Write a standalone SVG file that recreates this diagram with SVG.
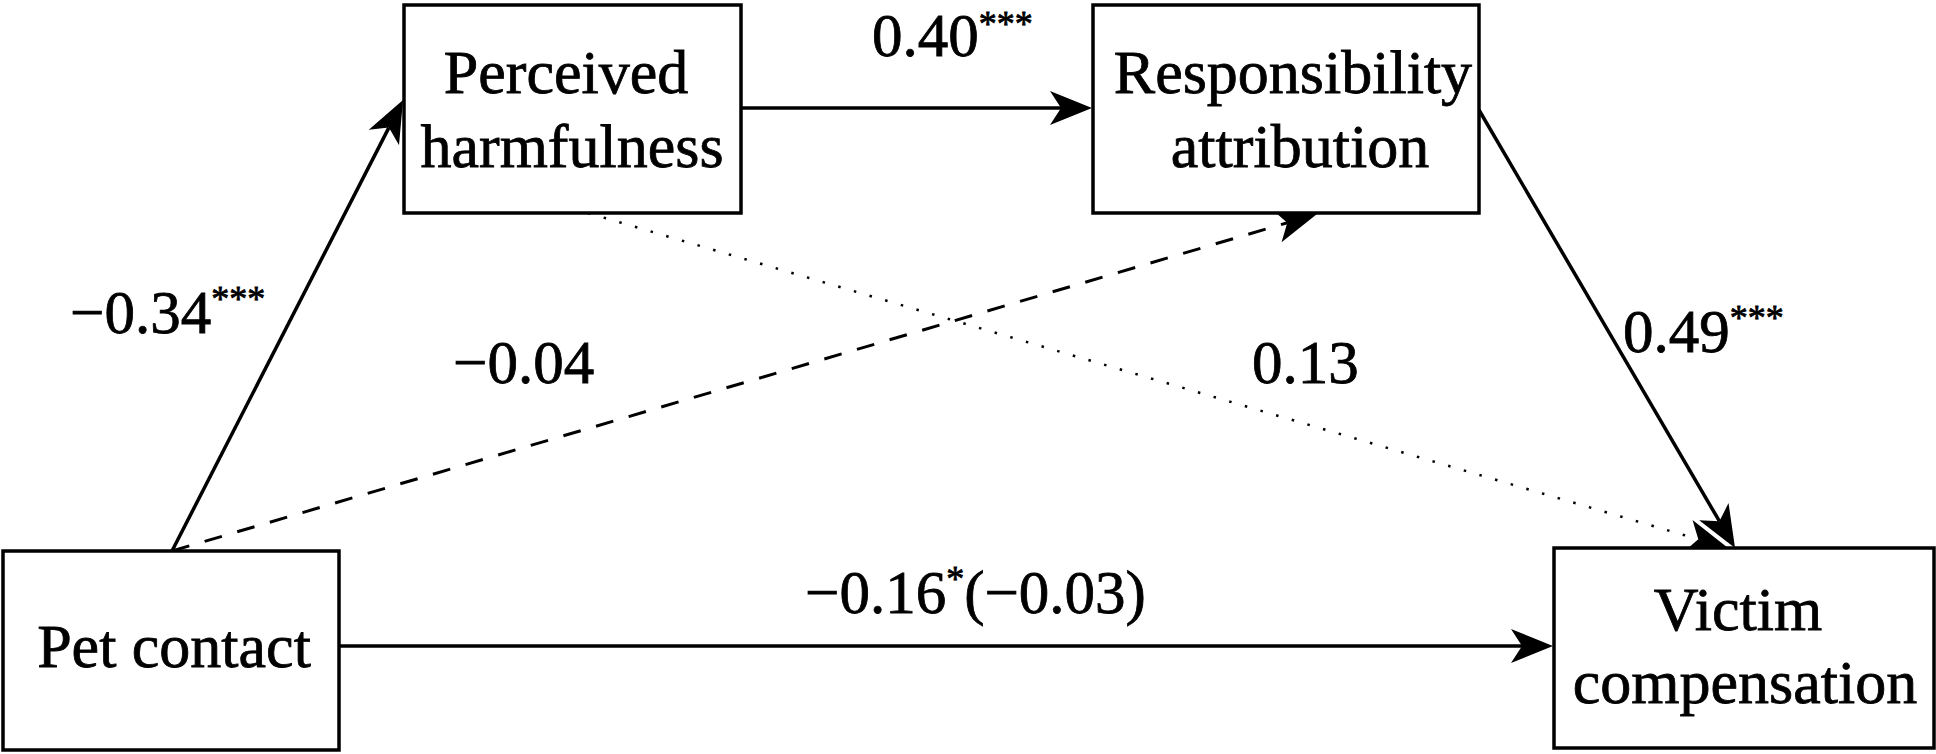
<svg xmlns="http://www.w3.org/2000/svg" width="1936" height="754" viewBox="0 0 1936 754">
<style>
.box{fill:#fff;stroke:#000;stroke-width:3.5}
.nt{font-family:"Liberation Serif","Times New Roman",Tinos,serif;font-size:62px;fill:#000;stroke:#000;stroke-width:0.8;text-anchor:middle}
.lb{font-family:"Liberation Serif","Times New Roman",Tinos,serif;font-size:61px;fill:#000;stroke:#000;stroke-width:0.8}
.sup{font-size:36px}
.ln{fill:none;stroke:#000;stroke-width:3.5}
.dash{stroke-width:3;stroke-dasharray:18 16}
.dot{stroke-width:2.5;stroke-dasharray:2.5 13.8}
</style>
<defs>
<marker id="ah" markerUnits="userSpaceOnUse" viewBox="0 -18 44 36" refX="11" refY="0" markerWidth="44" markerHeight="36" orient="auto">
<path d="M0,-17 L42,0 L0,17 L11,0 Z" fill="#000"/>
</marker>
</defs>
<rect width="1936" height="754" fill="#fff"/>
<g id="connectors">
<line class="ln" x1="172" y1="551" x2="388.9" y2="127.6" marker-end="url(#ah)"/>
<line class="ln" x1="741" y1="108" x2="1061" y2="108" marker-end="url(#ah)"/>
<line class="ln" x1="1479" y1="110" x2="1719.4" y2="521.2" marker-end="url(#ah)"/>
<line class="ln dot" x1="588" y1="213" x2="1698.3" y2="539.3" marker-end="url(#ah)"/>
<line class="ln dash" x1="172" y1="551" x2="1287.3" y2="222.75" marker-end="url(#ah)"/>
<line class="ln" x1="339" y1="646" x2="1522" y2="646" marker-end="url(#ah)"/>
</g>
<g id="node-perceived">
<rect class="box" x="404" y="5" width="337" height="208"/>
<text class="nt" x="566" y="93">Perceived</text>
<text class="nt" x="572" y="167">harmfulness</text>
</g>
<g id="node-responsibility">
<rect class="box" x="1093" y="5" width="386" height="208"/>
<text class="nt" x="1293" y="93">Responsibility</text>
<text class="nt" x="1300" y="167">attribution</text>
</g>
<g id="node-pet">
<rect class="box" x="3" y="551" width="336" height="199"/>
<text class="nt" x="174" y="667">Pet contact</text>
</g>
<g id="node-victim">
<rect class="box" x="1554" y="548" width="380" height="200"/>
<text class="nt" x="1738" y="630">Victim</text>
<text class="nt" x="1745" y="703">compensation</text>
</g>
<g id="labels">
<text class="lb" x="70" y="333">−0.34<tspan class="sup" dy="-22">***</tspan></text>
<text class="lb" x="872" y="56">0.40<tspan class="sup" dy="-20">***</tspan></text>
<text class="lb" x="453" y="383">−0.04</text>
<text class="lb" x="1252" y="383">0.13</text>
<text class="lb" x="1623" y="352">0.49<tspan class="sup" dy="-22">***</tspan></text>
<text class="lb" x="805" y="613">−0.16<tspan class="sup" dy="-22">*</tspan><tspan dy="22">(−0.03)</tspan></text>
</g>
</svg>
